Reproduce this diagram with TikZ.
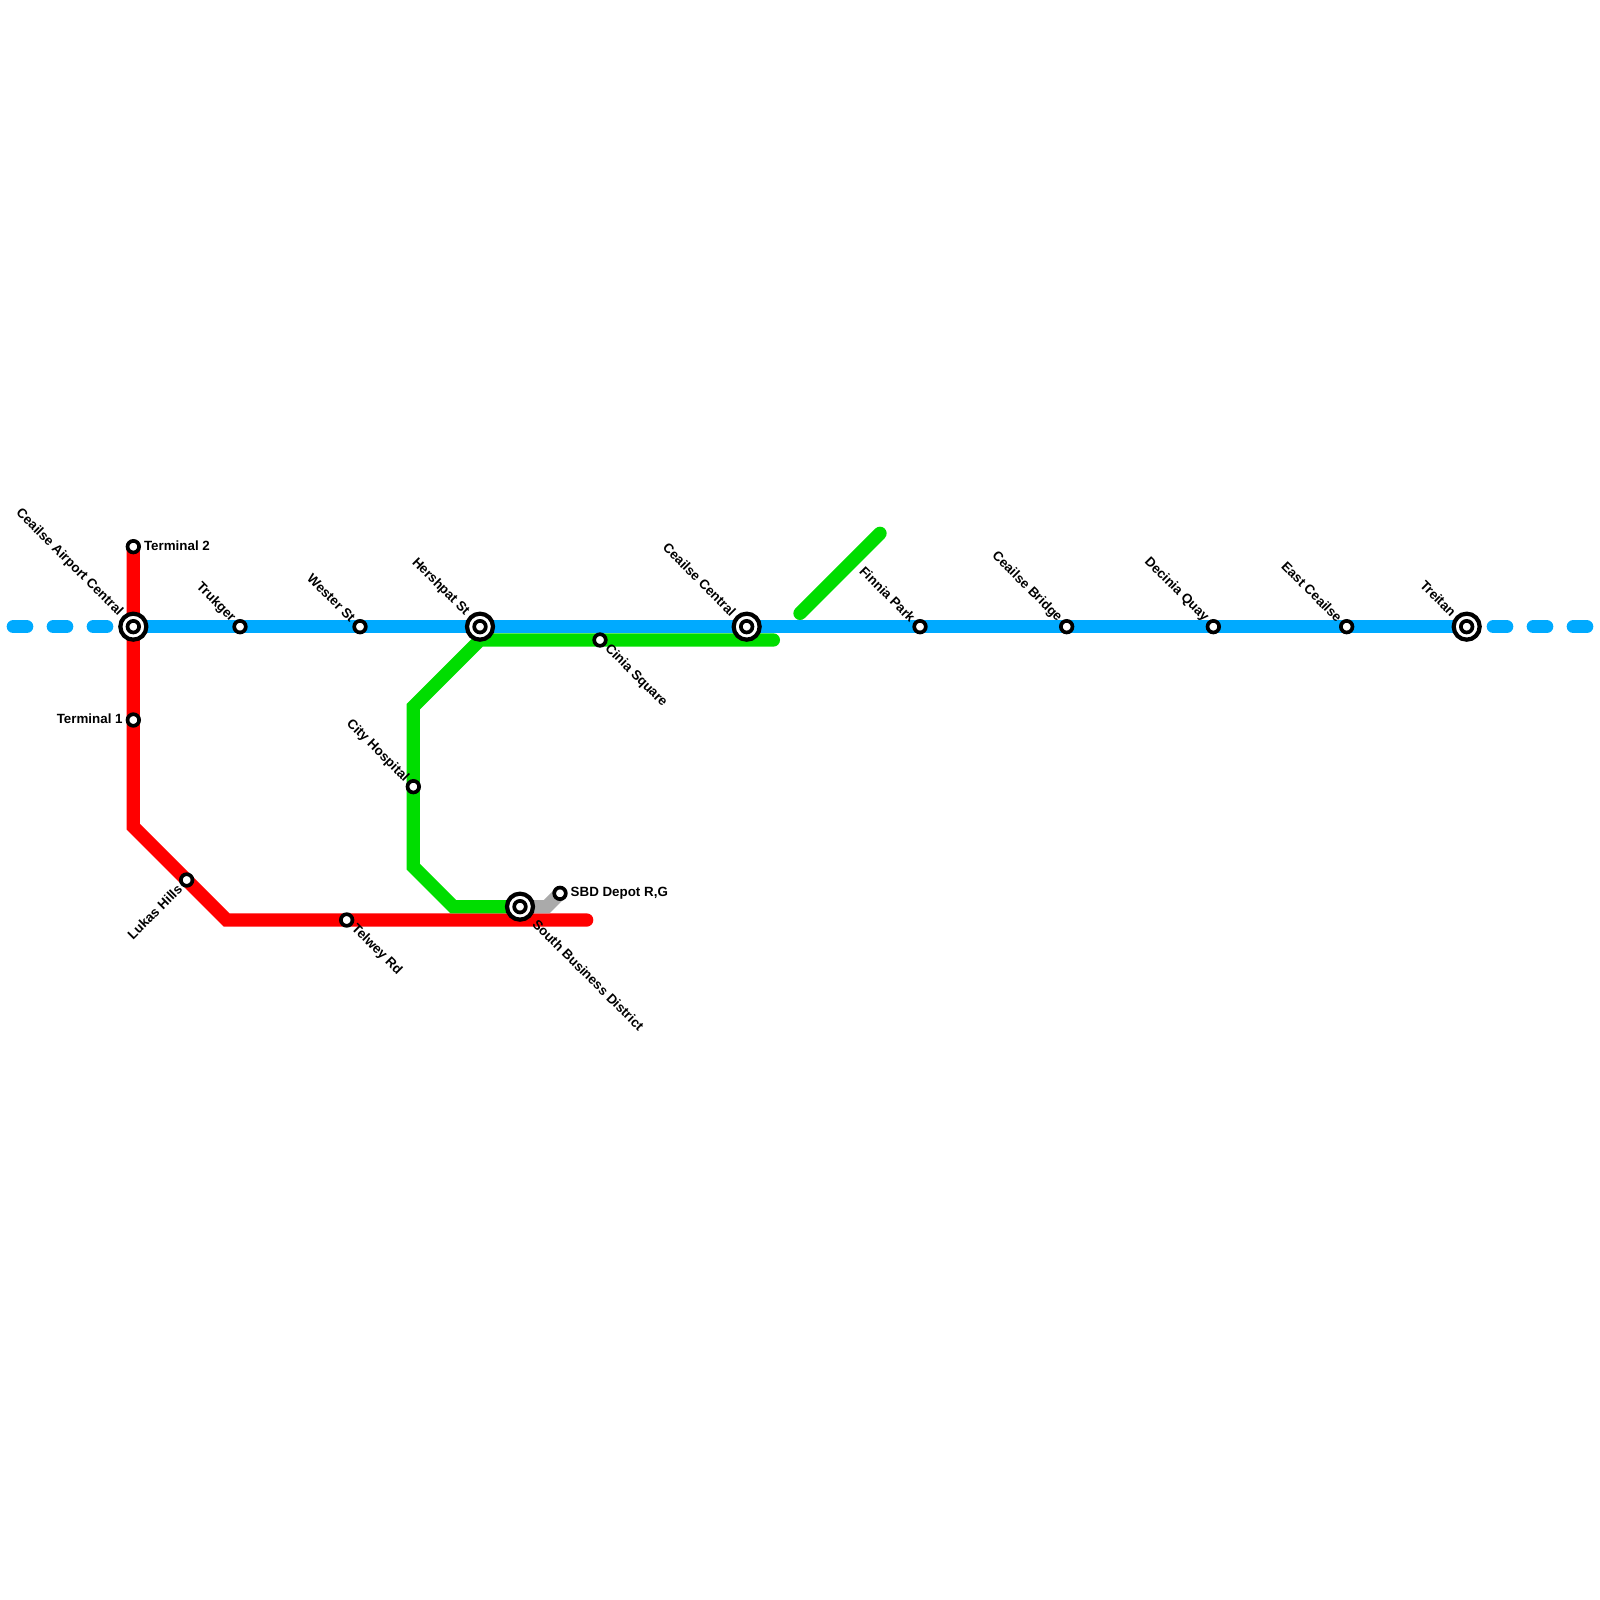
\documentclass[tikz,border=0pt]{standalone}
\usepackage{fontspec}
\setmainfont{Liberation Sans}
\usepackage{tikz}
\pgfdeclarelayer{lines}
\pgfsetlayers{lines,main}
\definecolor{lineblue}{HTML}{00AAFF}
\definecolor{linered}{HTML}{FF0000}
\definecolor{linegreen}{HTML}{00DD00}
\definecolor{linegrey}{HTML}{AAAAAA}

\begin{document}
\begin{tikzpicture}[
      x=1.3333mm, y=1.3333mm,
      route/.style={line width=3.79pt, line cap=round, line join=miter},
      stop/.style={circle, draw=black, fill=white, line width=1.05pt, inner sep=0pt, minimum size=3.3pt},
      hubring/.style={circle, draw=black, fill=white, line width=1.2pt, inner sep=0pt, minimum size=7.4pt},
      stopname/.style={font=\bfseries\fontsize{3.8}{4.2}\selectfont, inner sep=0pt, text=black},
      nwname/.style={stopname, xshift=-.65mm, yshift=.65mm, rotate=-45, anchor=east},
      nwhub/.style={stopname, xshift=-1.25mm, yshift=1.25mm, rotate=-45, anchor=east},
      sename/.style={stopname, xshift=.65mm, yshift=-.65mm, rotate=-45, anchor=west},
      sehub/.style={stopname, xshift=1.45mm, yshift=-1.45mm, rotate=-45, anchor=west},
      swname/.style={stopname, xshift=-.65mm, yshift=-.65mm, rotate=45, anchor=east}
    ]
    \useasboundingbox (0,-120) rectangle (120,0);

    \coordinate (redbend1) at (10,-62);
    \coordinate (redbend2) at (17,-69);
    \coordinate (redend) at (44,-69);
    \coordinate (greenbend1) at (31,-53);
    \coordinate (greenbend2) at (31,-65);
    \coordinate (greenbend3) at (34,-68);
    \coordinate (greenend) at (58,-48);
    \coordinate (greenfrom) at (60,-46);
    \coordinate (greento) at (66,-40);
    \coordinate (greenstart) at (36,-48);
    \coordinate (greybend) at (41,-68);

    % stations
    \node[hubring] (airport) at (10,-47) {};
    \node[hubring] (hershpat) at (36,-47) {};
    \node[hubring] (central) at (56,-47) {};
    \node[hubring] (sbd) at (39,-68) {};
    \node[hubring] (treitan) at (110,-47) {};
    \foreach \s in {airport, hershpat, central, sbd, treitan} {
      \node[stop] (\s core) at (\s) {};
    }
    \node[stop] (terminal2) at (10,-41) {};
    \node[stop] (terminal1) at (10,-54) {};
    \node[stop] (lukas) at (14,-66) {};
    \node[stop] (telwey) at (26,-69) {};
    \node[stop] (trukger) at (18,-47) {};
    \node[stop] (wester) at (27,-47) {};
    \node[stop] (hospital) at (31,-59) {};
    \node[stop] (cinia) at (45,-48) {};
    \node[stop] (depot) at (42,-67) {};
    \node[stop] (finnia) at (69,-47) {};
    \node[stop] (bridge) at (80,-47) {};
    \node[stop] (decinia) at (91,-47) {};
    \node[stop] (east) at (101,-47) {};

    % lines
    \begin{pgfonlayer}{lines}
    \draw[route, linered] (terminal2.center) -- (redbend1) -- (redbend2) -- (redend);
    \draw[route, lineblue] (airport.center) -- (treitan.center);
    \draw[route, linegreen] (sbd.center) -- (greenbend3) -- (greenbend2) -- (greenbend1) -- (greenstart) -- (cinia.center) -- (greenend);
    \draw[route, linegreen] (greenfrom) -- (greento);
    \draw[route, linegrey, line cap=butt] (sbd.center) -- (greybend) -- (depot.center);
    \foreach \x/\n in {1/a, 4/b, 7/c, 112/d, 115/e, 118/f} {
      \coordinate (dash\n l) at (\x,-47);
      \coordinate (dash\n r) at (\x+1,-47);
      \draw[route, lineblue] (dash\n l) -- (dash\n r);
    }
    \end{pgfonlayer}

    % labels
    \node[nwhub] (airportname) at (airport) {Ceailse Airport Central};
    \node[nwhub] (hershpatname) at (hershpat) {Hershpat St};
    \node[nwhub] (centralname) at (central) {Ceailse Central};
    \node[nwhub] (treitanname) at (treitan) {Treitan};
    \node[sehub] (sbdname) at (sbd) {South Business District};
    \node[nwname] (trukgername) at (trukger) {Trukger};
    \node[nwname] (westername) at (wester) {Wester St};
    \node[nwname] (hospitalname) at (hospital) {City Hospital};
    \node[nwname] (finnianame) at (finnia) {Finnia Park};
    \node[nwname] (bridgename) at (bridge) {Ceailse Bridge};
    \node[nwname] (decinianame) at (decinia) {Decinia Quay};
    \node[nwname] (eastname) at (east) {East Ceailse};
    \node[sename] (cinianame) at (cinia) {Cinia Square};
    \node[sename] (telweyname) at (telwey) {Telwey Rd};
    \node[swname] (lukasname) at (lukas) {Lukas Hills};
    \node[stopname, anchor=west, xshift=1mm, yshift=.1mm] (terminal2name) at (terminal2) {Terminal 2};
    \node[stopname, anchor=east, xshift=-1mm, yshift=.1mm] (terminal1name) at (terminal1) {Terminal 1};
    \node[stopname, anchor=west, xshift=1mm] (depotname) at (depot) {SBD Depot R,G};
\end{tikzpicture}
\end{document}
